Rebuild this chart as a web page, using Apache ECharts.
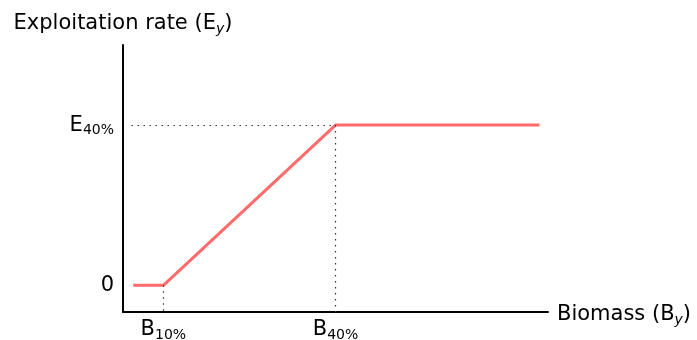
<!DOCTYPE html>
<html><head><meta charset="utf-8">
<script src="https://cdn.jsdelivr.net/npm/echarts@6/dist/echarts.min.js"></script>
<style>html,body{margin:0;padding:0;background:#fff}#c{width:697px;height:340px}</style>
</head><body><div id="c"></div>
<script>
// Harvest control rule (arbitrary units)
var biomass = [2.4, 9.5, 50, 98];
var exploitation = [0, 0, 0.6, 0.6];
var xTickValues = [9.5, 50];
var xTickLabels = ['B{s|10%}', 'B{s|40%}'];
var yTickValues = [0, 0.6];
var yTickLabels = ['0', 'E{s|40%}'];
var guideStartX = 2;

var FONT = 'DejaVu Sans';
var rich = { s: { fontSize: 14, fontFamily: FONT, color: '#000', padding: [11, 0, 0, 0] } };
var richName = { s: { fontSize: 14, fontFamily: FONT, color: '#000', fontStyle: 'italic', padding: [10, 0, 0, 0] } };

var chart = echarts.init(document.getElementById('c'));
chart.setOption({
  animation: false,
  grid: { left: 123, right: 149, top: 45, bottom: 28, outerBoundsMode: 'none', containLabel: false },
  xAxis: {
    type: 'value', min: 0, max: 100,
    name: 'Biomass (B{s|y})', nameLocation: 'end', nameGap: 9,
    nameTextStyle: { fontSize: 21, fontFamily: FONT, color: '#000', rich: richName, padding: [6, 0, 0, 0] },
    axisLine: { onZero: false, lineStyle: { color: '#000', width: 2 } },
    axisTick: { show: false },
    splitLine: { show: false },
    axisLabel: {
      customValues: xTickValues,
      formatter: function (v) { return xTickLabels[xTickValues.indexOf(v)]; },
      fontSize: 21, fontFamily: FONT, color: '#000', margin: 5, rich: rich
    }
  },
  yAxis: {
    type: 'value', min: -0.1, max: 0.9,
    name: 'Exploitation rate (E{s|y})', nameLocation: 'end', nameGap: 9,
    nameTextStyle: { fontSize: 21, fontFamily: FONT, color: '#000', rich: richName },
    axisLine: { onZero: false, lineStyle: { color: '#000', width: 2 } },
    axisTick: { show: false },
    splitLine: { show: false },
    axisLabel: {
      customValues: yTickValues,
      formatter: function (v) { return yTickLabels[yTickValues.indexOf(v)]; },
      fontSize: 21, fontFamily: FONT, color: '#000', margin: 9, rich: rich
    }
  },
  series: [{
    type: 'line',
    data: biomass.map(function (b, i) { return [b, exploitation[i]]; }),
    symbol: 'none',
    lineStyle: { color: '#ff6b6b', width: 3 },
    markLine: {
      symbol: 'none', silent: true,
      label: { show: false },
      lineStyle: { type: [1.5, 4.5], color: '#333', width: 1.2 },
      data: [
        [{ coord: [guideStartX, exploitation[2]] }, { coord: [biomass[2], exploitation[2]] }],
        [{ coord: [biomass[2], exploitation[2]] }, { coord: [biomass[2], -0.1] }],
        [{ coord: [biomass[1], exploitation[1]] }, { coord: [biomass[1], -0.1] }]
      ]
    }
  }]
});
</script></body></html>
